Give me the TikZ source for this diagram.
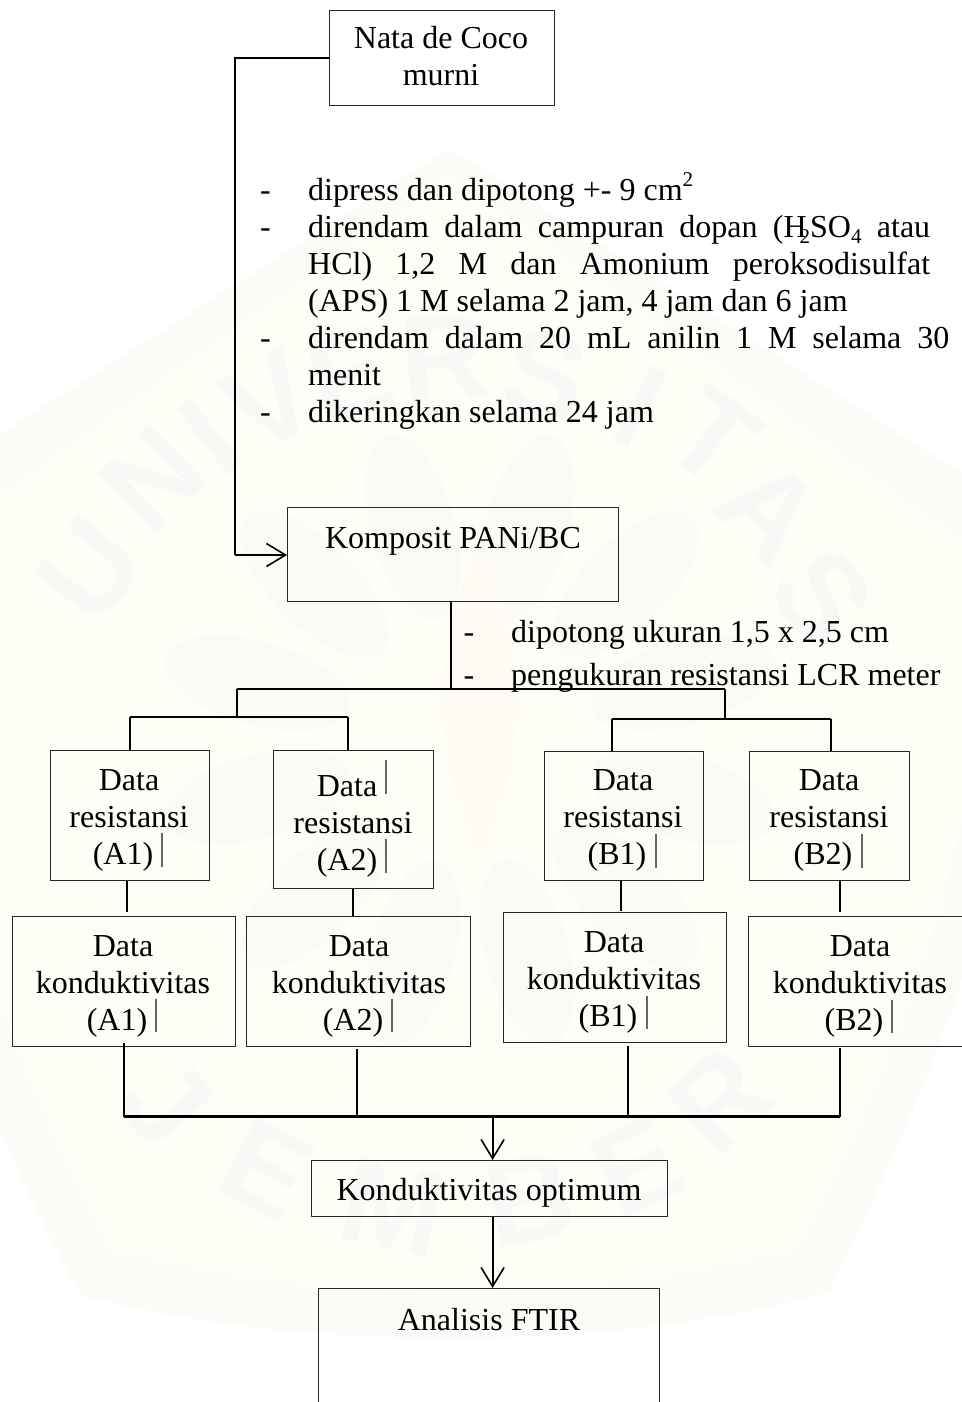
\documentclass[tikz,border=0pt]{standalone}
\usepackage{fontspec}
\setmainfont{Liberation Serif}
\newfontfamily\wmfont{Liberation Sans}
\usetikzlibrary{arrows.meta}
\definecolor{bandc}{HTML}{FBFBF8}
\definecolor{bgc}{HTML}{FEFEF7}
\definecolor{wmc}{HTML}{F8F9F7}
\definecolor{wmq}{HTML}{FAFBF7}
\definecolor{wmp}{HTML}{FEFAF4}
\tikzset{
  x=1pt,y=-1pt,
  boxn/.style={draw=black!85,line width=1.3pt,fill=none,inner sep=0pt,anchor=north west},
  txt/.style={font=\fontsize{32}{37}\selectfont,inner sep=0pt,anchor=base,align=center},
  txtl/.style={font=\fontsize{32}{37}\selectfont,inner sep=0pt,anchor=base west,align=left},
  wm/.style={font=\wmfont\bfseries\fontsize{122}{122}\selectfont,text=wmc,inner sep=0pt},
  petal/.style={fill=wmq,draw=none},
  wire/.style={draw=black,line width=2pt},
  thin wire/.style={draw=black,line width=2pt},
  thick wire/.style={draw=black,line width=2.2pt},
  arrw/.style={draw=black,line width=2pt,-{Straight Barb[length=19pt,width=23pt,line width=1.6pt]}},
  tick/.style={draw=black!60,line width=1.2pt},
}
\newcommand{\jl}[2]{\makebox[#1pt][s]{#2}}
\newcommand{\tl}[1]{#1\hspace*{12pt}}
\begin{document}
\begin{tikzpicture}
\useasboundingbox (0,0) rectangle (961,1402);
% watermark
\fill[white] (0,0) rectangle (961,1402);
\fill[bandc,rounded corners=8pt] (450,148) -- (1030,517) .. controls (1040,800) and (960,1030) .. (827,1293) .. controls (700,1325) and (580,1338) .. (450,1338) .. controls (320,1338) and (200,1325) .. (80,1295) .. controls (-60,1030) and (-130,800) .. (-130,517) -- cycle;
\fill[bgc,rounded corners=8pt] (450,175) -- (990,560) .. controls (990,800) and (920,1010) .. (800,1248) .. controls (690,1275) and (570,1292) .. (450,1292) .. controls (330,1292) and (220,1275) .. (110,1250) .. controls (-10,1010) and (-90,800) .. (-90,560) -- cycle;
\foreach \a in {-75,-45,-15,15,45,75,105,135,165,195,225,255} {
  \fill[petal,rotate around={\a:(470,740)}] (470,520) ellipse [x radius=42pt,y radius=95pt];
}
\fill[wmp] (480,540) .. controls (520,640) and (540,720) .. (480,860) .. controls (420,720) and (440,640) .. (480,540) -- cycle;
\node[wm,rotate=52] (w1) at (90,570) {U};
\node[wm,rotate=44] (w2) at (153,479) {N};
\node[wm,rotate=38] (w3) at (210,437) {I};
\node[wm,rotate=30] (w4) at (270,402) {V};
\node[wm,rotate=16] (w5) at (350,375) {E};
\node[wm,rotate=4] (w6) at (445,358) {R};
\node[wm,rotate=-12] (w7) at (545,375) {S};
\node[wm,rotate=-28] (w8) at (640,406) {I};
\node[wm,rotate=-36] (w9) at (713,437) {T};
\node[wm,rotate=-45] (w10) at (770,510) {A};
\node[wm,rotate=-52] (w11) at (823,597) {S};
\node[wm,rotate=-48] (w12) at (167,1103) {J};
\node[wm,rotate=-28] (w13) at (267,1170) {E};
\node[wm,rotate=-12] (w14) at (393,1207) {M};
\node[wm,rotate=10] (w15) at (530,1200) {B};
\node[wm,rotate=26] (w16) at (637,1167) {E};
\node[wm,rotate=42] (w17) at (720,1100) {R};
% boxes
\node[boxn,minimum width=225pt,minimum height=95pt] (nata) at (329,10) {};
\node[boxn,minimum width=331pt,minimum height=94pt] (kom) at (287,507) {};
\node[boxn,minimum width=159pt,minimum height=130pt] (ra1) at (50,750) {};
\node[boxn,minimum width=160pt,minimum height=138pt] (ra2) at (273,750) {};
\node[boxn,minimum width=159pt,minimum height=129pt] (rb1) at (544,751) {};
\node[boxn,minimum width=160pt,minimum height=129pt] (rb2) at (749,751) {};
\node[boxn,minimum width=223pt,minimum height=130pt] (ca1) at (12,916) {};
\node[boxn,minimum width=224pt,minimum height=130pt] (ca2) at (246,916) {};
\node[boxn,minimum width=223.5pt,minimum height=130pt] (cb1) at (502.5,912) {};
\node[boxn,minimum width=223pt,minimum height=130pt] (cb2) at (748,916) {};
\node[boxn,minimum width=356pt,minimum height=56pt] (opt) at (311,1160) {};
\node[boxn,minimum width=341pt,minimum height=150pt] (ftir) at (318,1288) {};
% box texts (anchor: baseline of the last line)
\node[txt] (tnata) at (441,86) {Nata de Coco\\murni};
\node[txt] (tkom) at (453,548) {Komposit PANi/BC};
\node[txt] (tra1) at (129,864) {Data\\resistansi\\\tl{(A1)}};
\node[txt] (tra2) at (353,870) {\tl{Data}\\resistansi\\\tl{(A2)}};
\node[txt] (trb1) at (623,864) {Data\\resistansi\\\tl{(B1)}};
\node[txt] (trb2) at (829,864) {Data\\resistansi\\\tl{(B2)}};
\node[txt] (tca1) at (123,1030) {Data\\konduktivitas\\\tl{(A1)}};
\node[txt] (tca2) at (359,1030) {Data\\konduktivitas\\\tl{(A2)}};
\node[txt] (tcb1) at (614,1026) {Data\\konduktivitas\\\tl{(B1)}};
\node[txt] (tcb2) at (860,1030) {Data\\konduktivitas\\\tl{(B2)}};
\node[txt] (topt) at (489,1200) {Konduktivitas optimum};
\node[txt] (tftir) at (489,1330) {Analisis FTIR};
% list 1
\node[txtl] (d1) at (260,200) {-};
\node[txtl] (l1) at (308,200) {dipress dan dipotong +- 9 cm\raisebox{14pt}{\fontsize{21}{21}\selectfont 2}};
\node[txtl] (d2) at (260,237) {-};
\node[txtl] (l2) at (308,311) {\jl{622}{direndam dalam campuran dopan (H\kern-7pt\raisebox{-6pt}{\fontsize{21}{21}\selectfont 2}SO\raisebox{-6pt}{\fontsize{21}{21}\selectfont 4} atau}\\\jl{622}{HCl) 1,2 M dan Amonium peroksodisulfat}\\(APS) 1 M selama 2 jam, 4 jam dan 6 jam};
\node[txtl] (d3) at (260,348) {-};
\node[txtl] (l3) at (308,385) {\jl{641}{direndam dalam 20 mL anilin 1 M selama 30}\\menit};
\node[txtl] (d4) at (260,422) {-};
\node[txtl] (l4) at (308,422) {dikeringkan selama 24 jam};
% list 2
\node[txtl] (d5) at (463.5,642) {-};
\node[txtl] (l5) at (511,642) {dipotong ukuran 1,5 x 2,5 cm};
\node[txtl] (d6) at (463.5,685) {-};
\node[txtl] (l6) at (511,685) {pengukuran resistansi LCR meter};
% junctions
\coordinate (jtop) at (235,58);
\coordinate (jbot) at (235,555);
\coordinate (j0) at (450.5,689);
\coordinate (jl) at (236.5,689);
\coordinate (jr) at (725,689);
\coordinate (jlb) at (236.5,717);
\coordinate (jrb) at (725,719);
\coordinate (ja1) at (130,717);
\coordinate (ja2) at (347.5,717);
\coordinate (jb1) at (612,719);
\coordinate (jb2) at (831,719);
\coordinate (ea1) at (127,912);
\coordinate (ea2) at (353,916);
\coordinate (eb1) at (621,911);
\coordinate (eb2) at (840,911.5);
\coordinate (sa1) at (124,1043);
\coordinate (sa2) at (357,1049);
\coordinate (sb1) at (627.5,1046);
\coordinate (sb2) at (839.5,1048);
\coordinate (ha1) at (124,1116.5);
\coordinate (ha2) at (357,1116.5);
\coordinate (hb1) at (627.5,1116.5);
\coordinate (hb2) at (839.5,1116.5);
\coordinate (hc) at (492.6,1116.5);
% connectors
\draw[wire] (nata.west |- jtop) -- (jtop) -- (jbot);
\draw[arrw] (jbot) -- (jbot -| kom.west);
\draw[thin wire] (kom.south -| j0) -- (j0);
\draw[wire] (jl) -- (jr);
\draw[thin wire] (jl) -- (jlb);
\draw[thin wire] (jr) -- (jrb);
\draw[thick wire] (ja1) -- (ja2);
\draw[thick wire] (jb1) -- (jb2);
\draw[thin wire] (ja1) -- (ja1 |- ra1.north);
\draw[thin wire] (ja2) -- (ja2 |- ra2.north);
\draw[thin wire] (jb1) -- (jb1 |- rb1.north);
\draw[thin wire] (jb2) -- (jb2 |- rb2.north);
\draw[thin wire] (ea1 |- ra1.south) -- (ea1);
\draw[thin wire] (ea2 |- ra2.south) -- (ea2);
\draw[thin wire] (eb1 |- rb1.south) -- (eb1);
\draw[thin wire] (eb2 |- rb2.south) -- (eb2);
\draw[thin wire] (sa1) -- (ha1);
\draw[thin wire] (sa2) -- (ha2);
\draw[thin wire] (sb1) -- (hb1);
\draw[thin wire] (sb2) -- (hb2);
\draw[thick wire] (ha1) -- (hb2);
\draw[arrw] (hc) -- (hc |- opt.north);
\draw[arrw] (opt.south -| hc) -- (ftir.north -| hc);
% thin bars
\draw[tick] (162,833) -- (162,867);
\draw[tick] (386,760) -- (386,794);
\draw[tick] (386,839) -- (386,873);
\draw[tick] (656,834) -- (656,868);
\draw[tick] (862,834) -- (862,868);
\draw[tick] (156,999) -- (156,1032);
\draw[tick] (392,999) -- (392,1032);
\draw[tick] (647,996) -- (647,1029);
\draw[tick] (892,1000) -- (892,1033);
\end{tikzpicture}
\end{document}
